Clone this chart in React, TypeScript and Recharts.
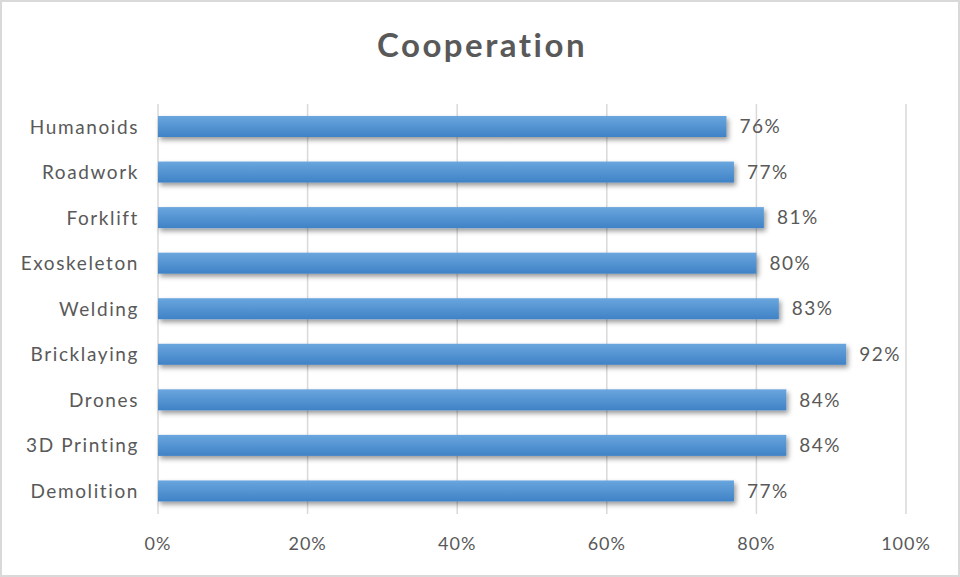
import { BarChart, Bar, XAxis, YAxis, CartesianGrid, LabelList } from 'recharts';

const categories = ['Humanoids', 'Roadwork', 'Forklift', 'Exoskeleton', 'Welding', 'Bricklaying', 'Drones', '3D Printing', 'Demolition'];
const cooperation = [76, 77, 81, 80, 83, 92, 84, 84, 77];
const xTicks = [0, 20, 40, 60, 80, 100];

const data = categories.map((name, i) => ({ name, value: cooperation[i] }));

const TEXT = '#595959';
const FONT = 'Lato, "Open Sans", sans-serif';

function ShadowBar(props: any) {
  const { x, y, width, height } = props;
  if (!width || width <= 0) return null;
  return <rect x={x} y={y} width={width} height={height} fill="url(#barGrad)" filter="url(#barShadow)" />;
}

export default function App() {
  return (
    <div style={{ position: 'absolute', left: 0, top: 0, width: 960, height: 577, background: '#fff', fontFamily: FONT }}>
      <div style={{ position: 'absolute', left: 0, top: 0, width: 956, height: 573, border: '2px solid #d9d9d9' }} />
      <div style={{ position: 'absolute', left: 2, top: 24, width: 960, textAlign: 'center', fontSize: 33, fontWeight: 700, letterSpacing: 2.5, color: TEXT }}>
        Cooperation
      </div>
      <div style={{ position: 'absolute', left: 0, top: 0 }}>
        <BarChart width={960} height={577} data={data} layout="vertical" margin={{ top: 104, right: 54, bottom: 0, left: 0 }} barSize={21}>
          <defs>
            <linearGradient id="barGrad" x1="0" y1="0" x2="0" y2="1">
              <stop offset="0%" stopColor="#6aa6de" />
              <stop offset="100%" stopColor="#3f82c6" />
            </linearGradient>
            <filter id="barShadow" x="-5%" y="-40%" width="112%" height="200%">
              <feDropShadow dx="2" dy="3" stdDeviation="2.5" floodColor="#000" floodOpacity="0.4" />
            </filter>
          </defs>
          <CartesianGrid horizontal={false} stroke="#d9d9d9" strokeWidth={1.5} />
          <XAxis
            type="number"
            domain={[0, 100]}
            ticks={xTicks}
            tickFormatter={(v) => `${v}%`}
            axisLine={false}
            tickLine={false}
            tickSize={0}
            tickMargin={23}
            height={63}
            tick={{ fill: TEXT, fontSize: 18, fontFamily: FONT, letterSpacing: 1 }}
            interval={0}
          />
          <YAxis
            type="category"
            dataKey="name"
            width={158}
            axisLine={false}
            tickLine={false}
            tickSize={0}
            tickMargin={19}
            tick={{ fill: TEXT, fontSize: 19, fontFamily: FONT, letterSpacing: 1.6 }}
            interval={0}
          />
          <Bar dataKey="value" shape={<ShadowBar />} isAnimationActive={false}>
            <LabelList
              dataKey="value"
              position="right"
              offset={13}
              formatter={(v: any) => `${v}%`}
              fill={TEXT}
              fontSize={19}
              fontFamily={FONT}
              style={{ letterSpacing: 1.5 }}
            />
          </Bar>
        </BarChart>
      </div>
    </div>
  );
}
